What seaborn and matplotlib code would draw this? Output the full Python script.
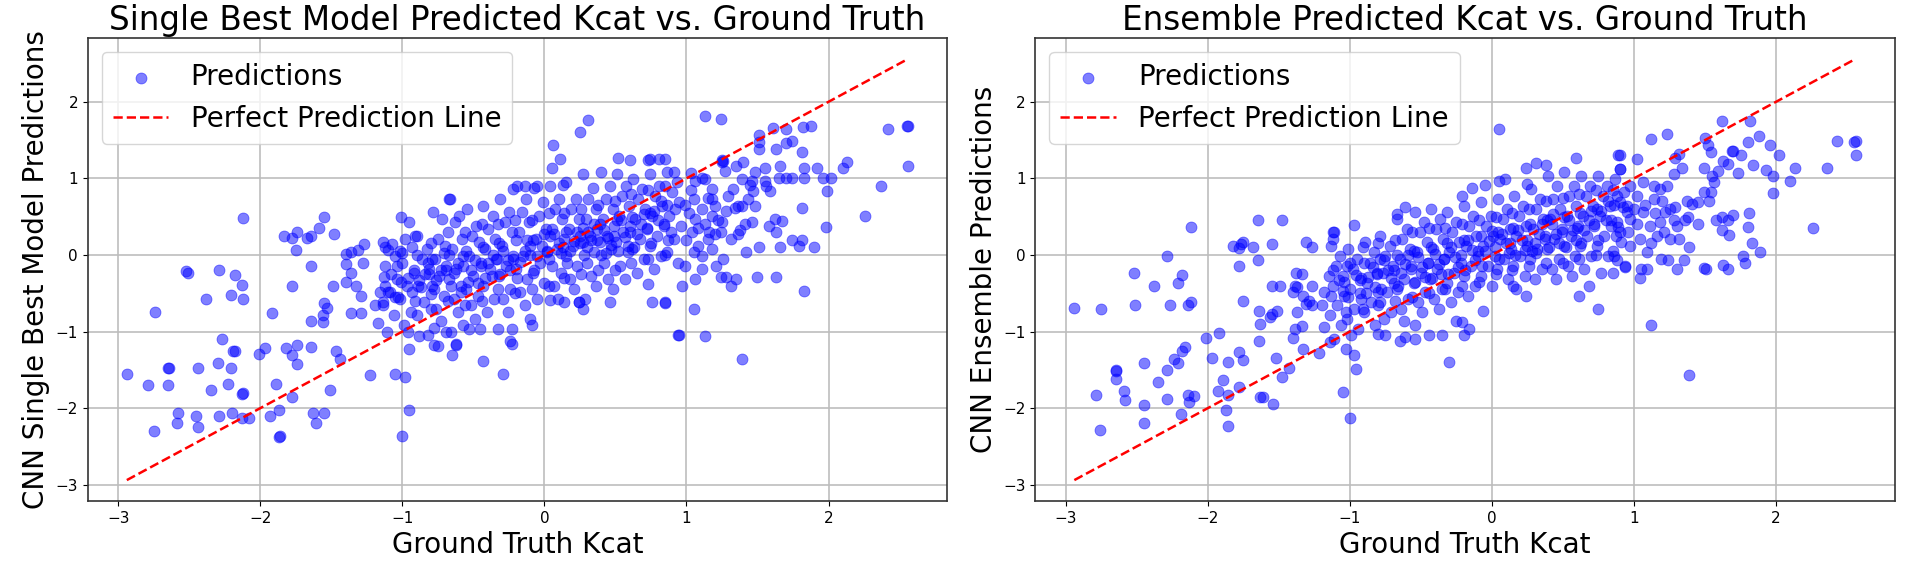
import matplotlib
matplotlib.use("Agg")
import matplotlib.pyplot as plt
import seaborn as sns
import pandas as pd

# (ground truth, prediction) pairs, single best model
single_points = [
    (-2.12, 0.48), (-1.55, 0.50), (-1.83, 0.25), (-1.78, 0.22), (-1.74, 0.30), (-1.67, 0.22),
    (-1.64, 0.25), (-1.59, 0.35), (-1.48, 0.27), (-1.75, 0.06), (-1.64, -0.14),
    (-2.51, -0.23), (-2.52, -0.21), (-2.29, -0.19), (-2.18, -0.26), (-2.13, -0.39), (-2.21, -0.52),
    (-2.12, -0.57), (-2.38, -0.58), (-2.74, -0.75), (-1.92, -0.76), (-1.78, -0.40), (-1.49, -0.40),
    (-1.55, -0.63), (-1.53, -0.69), (-1.56, -0.79), (-1.64, -0.86), (-1.56, -0.87),
    (-1.40, 0.01), (-1.36, 0.04), (-1.27, 0.14), (-1.31, 0.07), (-1.40, -0.12), (-1.36, -0.24),
    (-1.40, -0.35), (-1.28, -0.10), (-1.33, -0.40), (-1.29, -0.53), (-1.36, -0.76), (-1.29, -0.76),
    (-1.17, -0.89), (-1.19, -0.66), (-1.14, -0.66), (-1.16, -0.49), (-1.10, -0.49), (-1.13, -0.29),
    (-1.12, 0.10),
    (-2.27, -1.10), (-2.19, -1.25), (-2.18, -1.25), (-2.01, -1.29), (-1.97, -1.22), (-1.82, -1.22),
    (-1.78, -1.31), (-1.74, -1.18), (-1.74, -1.42), (-1.64, -1.20), (-1.47, -1.25), (-1.44, -1.36),
    (-2.94, -1.56), (-2.79, -1.70), (-2.65, -1.48), (-2.64, -1.47), (-2.65, -1.70), (-2.44, -1.48),
    (-2.30, -1.41), (-2.21, -1.48), (-2.35, -1.76), (-2.23, -1.68), (-2.13, -1.81), (-2.12, -1.80),
    (-1.89, -1.68), (-1.78, -1.86), (-1.51, -1.76), (-1.23, -1.57),
    (-2.75, -2.30), (-2.59, -2.19), (-2.58, -2.07), (-2.45, -2.10), (-2.44, -2.25), (-2.29, -2.10),
    (-2.20, -2.07), (-2.13, -2.13), (-2.08, -2.13), (-1.93, -2.10), (-1.87, -2.02), (-1.87, -2.38),
    (-1.86, -2.37), (-1.63, -2.07), (-1.61, -2.19), (-1.55, -2.07),
    (0.31, 1.76), (0.25, 1.61), (0.06, 1.43), (0.11, 1.25), (0.05, 1.14), (0.52, 1.26), (0.60, 1.24),
    (0.73, 1.24), (0.74, 1.25), (0.81, 1.25), (-0.67, 0.73), (-0.14, 0.90), (-0.22, 0.86),
    (-0.05, 0.90), (0.13, 0.91),
    (-0.95, -1.23), (-1.05, -1.55), (-0.98, -1.59), (-0.95, -2.03), (-1.00, -2.36), (-0.43, -1.38),
    (-0.29, -1.55), (-0.24, -1.12), (-0.23, -1.16), (-0.65, -1.30), (-0.62, -1.18), (-0.75, -1.19),
    (-0.88, -1.06), (0.94, -1.05),
    (0.04, -0.59), (0.14, -0.62), (0.24, -0.61), (0.27, -0.70), (0.46, -0.62), (0.73, -0.38),
    (0.76, -0.61), (0.85, -0.62), (-0.09, -0.92), (-0.33, -0.97), (-0.53, -0.97), (-0.78, -0.95),
    (-0.62, -1.16),
    (1.13, 1.81), (1.24, 1.78), (2.42, 1.65), (2.55, 1.68), (2.56, 1.68), (2.56, 1.16), (2.37, 0.90),
    (2.26, 0.51), (2.10, 1.14), (2.13, 1.22), (1.98, 0.37), (1.99, 0.83), (2.02, 1.00), (1.96, 1.00),
    (1.92, 1.14), (1.83, 1.14), (1.83, 1.00), (1.81, 1.35), (1.81, 0.61), (1.90, 0.11), (1.83, -0.47),
    (1.88, 1.69), (1.82, 1.67), (1.74, 1.49), (1.70, 1.46), (1.70, 1.65), (1.63, 1.39), (1.61, 1.66),
    (1.51, 1.56), (1.51, 1.48), (1.51, 1.39),
    (1.66, 1.16), (1.70, 1.00), (1.74, 1.00), (1.65, 1.00), (1.55, 1.13), (1.48, 1.08), (1.40, 1.22),
    (1.35, 1.16), (1.27, 1.09), (1.25, 1.21), (1.55, 0.96), (1.56, 0.90), (1.59, 0.83), (1.46, 0.96),
    (1.45, 0.91), (1.47, 0.83),
    (1.62, 0.47), (1.67, 0.44), (1.58, 0.38), (1.63, 0.30), (1.46, 0.43), (1.42, 0.04), (1.51, 0.11),
    (1.66, 0.11), (1.79, 0.12), (1.81, 0.19), (1.74, 0.19), (1.63, -0.29), (1.50, -0.29),
    (1.39, 0.64), (1.36, 0.64), (1.34, 0.61), (1.28, 0.58), (1.38, 0.32), (1.36, 0.27), (1.31, 0.21),
    (1.24, 0.30), (1.20, 0.27), (1.26, -0.05), (1.21, -0.14), (1.24, -0.29), (1.31, -0.40),
    (1.28, -0.29), (1.35, -0.31), (1.11, -0.18), (1.06, -0.31), (0.99, -0.14), (0.97, -0.40),
    (1.05, -0.70), (0.95, -1.05), (1.13, -1.06), (1.39, -1.36), (0.85, -0.63),
    (1.06, 0.97), (1.11, 1.00), (0.91, 1.08), (1.03, 1.07), (0.85, 1.25), (1.26, 1.23), (1.25, 1.24),
    (1.15, 0.74), (1.18, 0.73), (1.05, 0.73), (1.11, 0.60), (1.06, 0.47), (1.13, 0.40), (1.18, 0.51),
    (1.20, 0.64), (1.15, 0.21), (1.08, 0.12), (1.04, 0.30), (1.11, -0.01), (1.05, 0.04), (1.18, 0.08),
    (1.25, 0.43), (1.29, 0.77), (1.33, 0.86), (1.18, 0.86), (1.13, 0.99), (1.39, 0.99), (1.43, 0.73),
    (1.48, 0.64), (1.41, 0.40),
    (1.02, 0.55), (1.08, 0.35), (1.00, 0.20), (1.16, 0.30), (1.22, 0.45), (1.03, 0.85), (0.99, 0.65),
    # dense band
    (-1.135, 0.17), (-1.07, 0.14), (-1.10, 0.06), (-1.05, -0.01), (-1.12, -0.14), (-1.04, -0.31),
    (-1.09, -0.49), (-1.14, -0.62), (-1.06, -0.79), (-1.11, -1.01), (-1.08, -0.25), (-1.12, -0.40),
    (-1.05, -0.55),
    (-1.01, 0.49), (-0.95, 0.43), (-0.98, 0.21), (-0.93, 0.10), (-1.00, -0.10), (-0.92, -0.23),
    (-0.97, -0.40), (-1.02, -0.57), (-0.94, -0.75), (-0.99, -0.92), (-0.96, -1.01), (-0.96, -0.30),
    (-0.93, -0.48), (-1.00, 0.02),
    (-0.895, 0.25), (-0.83, 0.08), (-0.86, -0.05), (-0.81, -0.18), (-0.88, -0.33), (-0.80, -0.51),
    (-0.85, -0.62), (-0.90, -0.79), (-0.82, -1.05), (-0.84, -0.25), (-0.87, -0.42), (-0.82, -0.10),
    (-0.785, 0.56), (-0.72, 0.47), (-0.75, 0.21), (-0.70, 0.12), (-0.77, -0.05), (-0.69, -0.14),
    (-0.74, -0.27), (-0.79, -0.40), (-0.71, -0.53), (-0.76, -0.70), (-0.73, -0.86), (-0.695, -1.01),
    (-0.775, -1.18), (-0.73, -0.20), (-0.76, -0.33), (-0.71, 0.02),
    (-0.665, 0.73), (-0.60, 0.51), (-0.63, 0.43), (-0.58, 0.21), (-0.65, 0.08), (-0.57, -0.01),
    (-0.62, -0.18), (-0.67, -0.31), (-0.59, -0.40), (-0.64, -0.57), (-0.61, -0.75), (-0.575, -0.92),
    (-0.655, -1.01), (-0.61, -0.10), (-0.64, -0.24), (-0.59, -0.48),
    (-0.545, 0.60), (-0.48, 0.38), (-0.51, 0.25), (-0.46, 0.17), (-0.53, -0.01), (-0.45, -0.14),
    (-0.50, -0.27), (-0.55, -0.44), (-0.47, -0.53), (-0.52, -0.66), (-0.49, -0.83), (-0.455, -0.97),
    (-0.49, -0.07), (-0.52, -0.20), (-0.47, -0.36),
    (-0.43, 0.64), (-0.365, 0.51), (-0.395, 0.34), (-0.345, 0.21), (-0.415, 0.08), (-0.335, -0.05),
    (-0.385, -0.18), (-0.435, -0.40), (-0.355, -0.57), (-0.405, -0.75), (-0.37, -0.28), (-0.40, -0.10),
    (-0.36, 0.00),
    (-0.315, 0.73), (-0.25, 0.56), (-0.28, 0.43), (-0.23, 0.30), (-0.30, 0.12), (-0.22, -0.01),
    (-0.27, -0.14), (-0.32, -0.27), (-0.24, -0.44), (-0.29, -0.57), (-0.26, -0.75), (-0.225, -0.97),
    (-0.26, -0.06), (-0.29, 0.05), (-0.24, -0.20),
    (-0.195, 0.90), (-0.13, 0.73), (-0.16, 0.56), (-0.11, 0.43), (-0.18, 0.30), (-0.10, 0.12),
    (-0.15, -0.01), (-0.20, -0.18), (-0.12, -0.31), (-0.17, -0.49), (-0.14, -0.66), (-0.105, -0.83),
    (-0.14, 0.05), (-0.17, -0.09), (-0.12, 0.20),
    (-0.075, 0.88), (-0.01, 0.69), (-0.04, 0.51), (0.01, 0.34), (-0.06, 0.21), (0.02, 0.04),
    (-0.03, -0.10), (-0.08, -0.23), (0.00, -0.36), (-0.05, -0.57), (-0.02, 0.12), (-0.05, -0.02),
    (0.00, 0.27),
    (0.04, 0.90), (0.105, 0.73), (0.075, 0.60), (0.125, 0.47), (0.055, 0.34), (0.135, 0.21),
    (0.085, 0.08), (0.035, -0.05), (0.115, -0.23), (0.065, -0.40), (0.095, -0.57), (0.10, 0.15),
    (0.07, 0.27), (0.12, 0.02),
    (0.155, 0.95), (0.22, 0.73), (0.19, 0.60), (0.24, 0.47), (0.17, 0.34), (0.25, 0.25), (0.20, 0.12),
    (0.15, -0.01), (0.23, -0.14), (0.18, -0.31), (0.21, -0.44), (0.245, -0.62), (0.21, 0.18),
    (0.18, 0.05), (0.23, 0.30),
    (0.275, 1.06), (0.34, 0.88), (0.31, 0.73), (0.36, 0.60), (0.29, 0.47), (0.37, 0.34), (0.32, 0.25),
    (0.27, 0.17), (0.35, 0.04), (0.30, -0.10), (0.33, -0.27), (0.365, -0.40), (0.285, -0.57),
    (0.33, 0.20), (0.30, 0.10), (0.35, 0.40), (0.31, 0.30),
    (0.395, 1.08), (0.46, 0.90), (0.43, 0.73), (0.48, 0.60), (0.41, 0.47), (0.49, 0.38), (0.44, 0.25),
    (0.39, 0.17), (0.47, 0.08), (0.42, -0.10), (0.45, -0.31), (0.485, -0.44), (0.45, 0.22),
    (0.42, 0.32), (0.47, 0.13), (0.43, 0.02),
    (0.51, 1.06), (0.575, 0.90), (0.545, 0.77), (0.595, 0.64), (0.525, 0.51), (0.605, 0.38),
    (0.555, 0.30), (0.505, 0.17), (0.585, 0.04), (0.535, -0.14), (0.565, -0.31), (0.57, 0.24),
    (0.54, 0.45), (0.59, 0.12),
    (0.625, 0.99), (0.69, 0.86), (0.66, 0.73), (0.71, 0.60), (0.64, 0.47), (0.72, 0.34), (0.67, 0.21),
    (0.62, 0.08), (0.70, -0.05), (0.65, -0.23), (0.68, 0.40), (0.65, 0.28), (0.70, 0.53),
    (0.745, 1.06), (0.81, 0.90), (0.78, 0.77), (0.83, 0.64), (0.76, 0.51), (0.84, 0.38), (0.79, 0.25),
    (0.74, 0.12), (0.82, -0.01), (0.77, -0.18), (0.80, 0.45), (0.77, 0.58), (0.82, 0.70),
    (0.865, 1.08), (0.93, 0.95), (0.90, 0.82), (0.95, 0.69), (0.88, 0.51), (0.96, 0.38), (0.91, 0.21),
    (0.86, 0.04), (0.94, -0.10), (0.92, 0.60), (0.89, 0.30),
    # core, second pass
    (-1.03, -0.55), (-1.01, -0.35), (-1.04, -0.15), (-1.02, 0.05),
    (-0.91, -0.60), (-0.89, -0.40), (-0.92, -0.20), (-0.90, 0.00), (-0.91, 0.25),
    (-0.80, -0.70), (-0.78, -0.45), (-0.81, -0.25), (-0.79, -0.05), (-0.80, 0.15),
    (-0.68, -0.60), (-0.66, -0.40), (-0.69, -0.20), (-0.67, 0.00), (-0.68, 0.30),
    (-0.56, -0.65), (-0.54, -0.35), (-0.57, -0.15), (-0.55, 0.05), (-0.56, 0.30),
    (-0.44, -0.60), (-0.42, -0.30), (-0.45, -0.10), (-0.43, 0.10), (-0.44, 0.40),
    (-0.33, -0.45), (-0.31, -0.25), (-0.34, -0.05), (-0.32, 0.15), (-0.33, 0.40),
    (-0.21, -0.50), (-0.19, -0.30), (-0.22, -0.05), (-0.20, 0.20), (-0.21, 0.45),
    (-0.09, -0.45), (-0.07, -0.20), (-0.10, 0.00), (-0.08, 0.20), (-0.09, 0.45),
    (0.03, -0.40), (0.05, -0.15), (0.02, 0.05), (0.04, 0.25), (0.03, 0.55),
    (0.14, -0.30), (0.16, -0.10), (0.13, 0.10), (0.15, 0.30), (0.14, 0.55),
    (0.26, -0.25), (0.28, 0.00), (0.25, 0.15), (0.27, 0.35), (0.26, 0.60),
    (0.38, -0.20), (0.40, 0.00), (0.37, 0.20), (0.39, 0.40), (0.38, 0.65),
    (0.50, -0.20), (0.52, 0.05), (0.49, 0.25), (0.51, 0.45), (0.50, 0.70),
    (0.61, -0.10), (0.63, 0.10), (0.60, 0.30), (0.62, 0.50), (0.61, 0.80),
    (0.73, -0.05), (0.75, 0.15), (0.72, 0.35), (0.74, 0.55), (0.73, 0.85),
    (0.85, 0.00), (0.87, 0.20), (0.84, 0.40), (0.86, 0.65), (0.85, 0.90),
]

# (ground truth, prediction) pairs, ensemble
ensemble_points = [
    (-2.12, 0.37), (-1.65, 0.46), (-1.48, 0.46), (-1.82, 0.12), (-1.78, 0.09), (-1.75, 0.17),
    (-1.77, 0.14), (-1.68, 0.10), (-1.55, 0.14), (-1.78, -0.15), (-1.65, -0.06), (-1.31, 0.17),
    (-1.27, 0.11),
    (-2.29, -0.01), (-2.52, -0.24), (-2.18, -0.26), (-2.21, -0.37), (-2.38, -0.41), (-2.94, -0.69),
    (-2.75, -0.70), (-2.51, -0.65), (-2.27, -0.65), (-2.14, -0.66), (-2.12, -0.61), (-1.75, -0.60),
    (-1.55, -0.40), (-1.49, -0.41), (-1.64, -0.73), (-1.56, -0.81), (-1.55, -0.77), (-1.51, -0.73),
    (-1.63, -0.90),
    (-1.38, -0.23), (-1.34, -0.25), (-1.39, -0.41), (-1.37, -0.42), (-1.27, -0.40), (-1.40, -0.49),
    (-1.33, -0.53), (-1.29, -0.60), (-1.31, -0.64), (-1.27, -0.66), (-1.20, -0.65), (-1.37, -0.74),
    (-1.34, -0.93), (-1.39, -0.97), (-1.40, -1.09), (-1.33, -1.23), (-1.22, -1.28), (-1.15, -0.27),
    (-1.18, -0.49), (-1.13, -0.53), (-1.18, -0.94), (-1.14, -1.14), (-1.12, 0.30),
    (-2.01, -1.09), (-1.92, -1.02), (-2.16, -1.20), (-2.18, -1.25), (-2.24, -1.36), (-2.21, -1.41),
    (-1.97, -1.34), (-1.86, -1.40), (-1.78, -1.27), (-1.75, -1.37), (-1.64, -1.13), (-1.52, -1.34),
    (-1.43, -1.47), (-1.48, -1.60),
    (-2.65, -1.50), (-2.65, -1.52), (-2.65, -1.62), (-2.45, -1.41), (-2.29, -1.50), (-2.35, -1.66),
    (-2.79, -1.83), (-2.59, -1.78), (-2.58, -1.90), (-2.45, -1.96), (-2.45, -2.20), (-2.29, -1.88),
    (-2.14, -1.83), (-2.10, -1.84), (-2.13, -1.92), (-2.19, -2.08), (-2.76, -2.28),
    (-1.93, -1.78), (-1.89, -1.63), (-1.86, -1.83), (-1.87, -2.02), (-1.86, -2.24), (-1.78, -1.73),
    (-1.63, -1.86), (-1.61, -1.86), (-1.54, -1.94),
    (0.05, 1.64), (0.59, 1.27), (0.89, 1.30), (0.24, 1.14), (0.31, 1.20), (0.38, 1.17), (0.90, 1.12),
    (0.05, 0.97), (0.09, 0.99), (0.25, 0.93), (-0.05, 0.91), (-0.14, 0.88), (-0.21, 0.77),
    (-0.97, 0.39), (-1.11, 0.30), (-1.12, 0.21), (-0.67, 0.54), (-0.61, 0.62),
    (-0.30, -1.40), (-1.05, -1.79), (-1.00, -2.13), (-0.96, -1.49), (-0.97, -1.31), (-1.03, -1.23),
    (-0.06, -0.73), (0.61, -0.54), (0.75, -0.70),
    (-0.80, -1.03), (-0.75, -1.04), (-0.65, -1.12), (-0.61, -1.07), (-0.54, -1.10), (-0.44, -1.04),
    (-0.35, -1.04), (-0.20, -1.04), (-0.16, -0.97), (-0.25, -0.86), (-0.21, -0.88), (-0.62, -0.86),
    (-0.54, -0.92), (0.17, -0.44), (0.24, -0.53), (0.15, -0.40),
    (1.62, 1.75), (1.82, 1.75), (1.12, 1.51), (1.23, 1.58), (1.50, 1.53), (1.52, 1.43), (1.54, 1.34),
    (1.32, 1.32), (1.29, 1.27), (0.90, 1.30), (1.02, 1.25), (0.90, 1.12),
    (1.34, 1.14), (1.28, 1.06), (1.49, 1.13), (1.55, 1.03), (1.59, 1.10), (1.63, 1.23), (1.69, 1.36),
    (1.70, 1.36), (1.75, 1.30), (1.66, 1.19), (1.73, 1.07), (1.84, 1.17), (1.80, 1.47), (1.88, 1.55),
    (1.96, 1.43), (2.02, 1.30), (1.93, 1.11), (1.98, 1.03), (1.98, 0.81), (2.13, 1.14), (2.10, 0.96),
    (2.36, 1.14), (2.43, 1.49), (2.56, 1.49), (2.55, 1.48), (2.56, 1.30), (2.26, 0.35),
    (1.81, 0.55), (1.80, 0.36), (1.83, 0.16), (1.89, 0.04), (1.77, -0.01), (1.78, -0.10), (1.63, -0.13),
    (1.66, -0.18), (1.49, -0.17), (1.51, -0.18), (1.67, 0.26), (1.62, 0.32), (1.58, 0.45), (1.62, 0.49),
    (1.66, 0.45), (1.70, 0.52), (1.53, 0.71), (1.54, 0.82), (1.49, 0.82), (1.56, 0.95), (1.45, 0.69),
    (1.41, 0.67), (1.37, 0.71), (1.38, 0.49), (1.36, 0.45), (1.45, 0.40), (1.29, 0.62), (1.25, 0.60),
    (1.22, 0.56), (1.39, 0.10), (1.35, -0.07), (1.30, -0.18), (1.24, -0.07), (1.19, -0.05),
    (1.09, -0.18), (1.05, -0.18), (1.04, -0.30), (1.12, -0.91), (1.39, -1.57), (0.85, -0.23),
    (0.94, -0.16), (0.88, -0.07),
    (0.88, 0.77), (0.95, 0.64), (1.02, 0.77), (0.97, 0.47), (1.06, 0.56), (1.14, 0.73), (1.18, 0.86),
    (1.11, 0.38), (1.16, 0.25), (1.04, 0.21), (0.97, 0.12), (0.90, 0.30), (1.09, 0.04), (1.21, 0.30),
    (1.30, 0.38), (1.18, 0.43), (1.25, 0.21), (1.32, 0.21), (1.06, 0.95), (1.14, 0.90), (1.23, 0.90),
    (0.97, 0.90),
    (1.02, 0.40), (1.08, 0.65), (1.12, 0.15), (1.20, 0.70), (1.28, 0.45), (1.00, 0.60), (1.15, 0.55),
    # dense band
    (-1.135, 0.12), (-1.07, -0.01), (-1.10, -0.14), (-1.05, -0.27), (-1.12, -0.40), (-1.04, -0.53),
    (-1.09, -0.66), (-1.14, -0.79), (-1.06, -0.92), (-1.11, -1.10), (-1.08, -0.33), (-1.12, -0.20),
    (-1.05, -0.47),
    (-1.01, 0.08), (-0.95, -0.05), (-0.98, -0.18), (-0.93, -0.33), (-1.00, -0.44), (-0.92, -0.57),
    (-0.97, -0.70), (-1.02, -0.83), (-0.94, -0.97), (-0.99, -1.05), (-0.96, -0.26), (-0.93, -0.50),
    (-1.00, -0.11),
    (-0.895, 0.17), (-0.83, 0.04), (-0.86, -0.10), (-0.81, -0.23), (-0.88, -0.36), (-0.80, -0.49),
    (-0.85, -0.62), (-0.90, -0.75), (-0.82, -0.92), (-0.84, -0.16), (-0.87, -0.29), (-0.82, -0.42),
    (-0.785, 0.25), (-0.72, 0.12), (-0.75, -0.01), (-0.70, -0.14), (-0.77, -0.23), (-0.69, -0.36),
    (-0.74, -0.49), (-0.79, -0.62), (-0.71, -0.75), (-0.76, -0.83), (-0.73, -0.19), (-0.76, -0.07),
    (-0.71, -0.30),
    (-0.665, 0.47), (-0.60, 0.34), (-0.63, 0.21), (-0.58, 0.08), (-0.65, -0.05), (-0.57, -0.18),
    (-0.62, -0.31), (-0.67, -0.44), (-0.59, -0.57), (-0.64, -0.70), (-0.61, -0.12), (-0.64, -0.24),
    (-0.59, 0.00),
    (-0.545, 0.56), (-0.48, 0.43), (-0.51, 0.30), (-0.46, 0.17), (-0.53, 0.04), (-0.45, -0.10),
    (-0.50, -0.23), (-0.55, -0.36), (-0.47, -0.49), (-0.52, -0.62), (-0.49, -0.75), (-0.49, -0.16),
    (-0.52, -0.03), (-0.47, -0.29),
    (-0.43, 0.60), (-0.365, 0.47), (-0.395, 0.34), (-0.345, 0.21), (-0.415, 0.08), (-0.335, -0.05),
    (-0.385, -0.18), (-0.435, -0.31), (-0.355, -0.44), (-0.405, -0.57), (-0.37, -0.70),
    (-0.37, -0.12), (-0.40, 0.01), (-0.36, -0.25),
    (-0.315, 0.56), (-0.25, 0.43), (-0.28, 0.30), (-0.23, 0.17), (-0.30, 0.04), (-0.22, -0.10),
    (-0.27, -0.23), (-0.32, -0.36), (-0.24, -0.49), (-0.29, -0.62), (-0.26, -0.03), (-0.29, 0.10),
    (-0.24, -0.16),
    (-0.195, 0.64), (-0.13, 0.51), (-0.16, 0.38), (-0.11, 0.25), (-0.18, 0.12), (-0.10, -0.01),
    (-0.15, -0.14), (-0.20, -0.27), (-0.12, -0.40), (-0.17, -0.53), (-0.14, 0.06), (-0.17, 0.19),
    (-0.12, -0.07),
    (-0.075, 0.69), (-0.01, 0.51), (-0.04, 0.38), (0.01, 0.25), (-0.06, 0.12), (0.02, -0.01),
    (-0.03, -0.14), (-0.08, -0.27), (0.00, -0.40), (-0.02, 0.18), (-0.05, 0.05), (0.00, 0.31),
    (0.04, 0.73), (0.105, 0.60), (0.075, 0.47), (0.125, 0.34), (0.055, 0.21), (0.135, 0.08),
    (0.085, -0.05), (0.035, -0.18), (0.115, -0.31), (0.10, 0.15), (0.07, 0.27), (0.12, 0.02),
    (0.155, 0.77), (0.22, 0.64), (0.19, 0.51), (0.24, 0.38), (0.17, 0.25), (0.25, 0.12), (0.20, -0.01),
    (0.15, -0.14), (0.23, -0.27), (0.21, 0.20), (0.18, 0.32), (0.23, 0.06),
    (0.275, 0.86), (0.34, 0.73), (0.31, 0.60), (0.36, 0.47), (0.29, 0.34), (0.37, 0.21), (0.32, 0.08),
    (0.27, -0.05), (0.35, -0.18), (0.30, -0.31), (0.33, 0.27), (0.30, 0.15), (0.35, 0.40), (0.31, 0.02),
    (0.395, 1.03), (0.46, 0.90), (0.43, 0.73), (0.48, 0.60), (0.41, 0.47), (0.49, 0.34), (0.44, 0.21),
    (0.39, 0.08), (0.47, -0.05), (0.42, -0.18), (0.45, -0.31), (0.45, 0.28), (0.42, 0.40), (0.47, 0.15),
    (0.43, 0.53),
    (0.51, 1.08), (0.575, 0.90), (0.545, 0.77), (0.595, 0.64), (0.525, 0.51), (0.605, 0.38),
    (0.555, 0.25), (0.505, 0.12), (0.585, -0.01), (0.535, -0.14), (0.565, -0.27), (0.57, 0.32),
    (0.54, 0.45), (0.59, 0.19),
    (0.625, 1.03), (0.69, 0.90), (0.66, 0.77), (0.71, 0.64), (0.64, 0.51), (0.72, 0.38), (0.67, 0.25),
    (0.62, 0.12), (0.70, -0.01), (0.65, -0.18), (0.68, -0.40), (0.68, 0.45), (0.65, 0.32), (0.70, 0.58),
    (0.745, 1.03), (0.81, 0.90), (0.78, 0.77), (0.83, 0.64), (0.76, 0.51), (0.84, 0.38), (0.79, 0.25),
    (0.74, 0.12), (0.82, -0.01), (0.77, -0.23), (0.80, 0.45), (0.77, 0.58), (0.82, 0.70),
    (0.865, 0.99), (0.93, 0.82), (0.90, 0.69), (0.95, 0.56), (0.88, 0.43), (0.96, 0.30), (0.91, 0.17),
    (0.86, -0.01), (0.94, -0.14), (0.92, 0.62), (0.89, 0.36),
    # core, second pass
    (-1.03, -0.75), (-1.01, -0.55), (-1.04, -0.35), (-1.02, -0.15),
    (-0.91, -0.70), (-0.89, -0.50), (-0.92, -0.30), (-0.90, -0.10), (-0.91, 0.10),
    (-0.80, -0.65), (-0.78, -0.45), (-0.81, -0.25), (-0.79, -0.05), (-0.80, 0.15),
    (-0.68, -0.60), (-0.66, -0.40), (-0.69, -0.20), (-0.67, 0.00), (-0.68, 0.20),
    (-0.56, -0.55), (-0.54, -0.35), (-0.57, -0.15), (-0.55, 0.05), (-0.56, 0.30),
    (-0.44, -0.50), (-0.42, -0.30), (-0.45, -0.10), (-0.43, 0.10), (-0.44, 0.35),
    (-0.33, -0.45), (-0.31, -0.25), (-0.34, -0.05), (-0.32, 0.15), (-0.33, 0.35),
    (-0.21, -0.40), (-0.19, -0.20), (-0.22, 0.00), (-0.20, 0.20), (-0.21, 0.40),
    (-0.09, -0.35), (-0.07, -0.15), (-0.10, 0.05), (-0.08, 0.25), (-0.09, 0.45),
    (0.03, -0.25), (0.05, -0.05), (0.02, 0.10), (0.04, 0.30), (0.03, 0.50),
    (0.14, -0.20), (0.16, 0.00), (0.13, 0.15), (0.15, 0.35), (0.14, 0.55),
    (0.26, -0.15), (0.28, 0.05), (0.25, 0.20), (0.27, 0.40), (0.26, 0.60),
    (0.38, -0.10), (0.40, 0.10), (0.37, 0.25), (0.39, 0.45), (0.38, 0.70),
    (0.50, -0.10), (0.52, 0.10), (0.49, 0.30), (0.51, 0.50), (0.50, 0.75),
    (0.61, -0.05), (0.63, 0.15), (0.60, 0.35), (0.62, 0.55), (0.61, 0.80),
    (0.73, 0.00), (0.75, 0.20), (0.72, 0.40), (0.74, 0.60), (0.73, 0.85),
    (0.85, 0.05), (0.87, 0.25), (0.84, 0.45), (0.86, 0.65), (0.85, 0.85),
]

titles = ["Single Best Model Predicted Kcat vs. Ground Truth",
          "Ensemble Predicted Kcat vs. Ground Truth"]
ylabels = ["CNN Single Best Model Predictions", "CNN Ensemble Predictions"]

fig, axes = plt.subplots(1, 2, figsize=(19.08, 5.65), dpi=100)
fig.subplots_adjust(left=0.046, right=0.993, bottom=0.113, top=0.933, wspace=0.1026)

for ax, pts, title, ylab in zip(axes, [single_points, ensemble_points], titles, ylabels):
    df = pd.DataFrame(pts, columns=["truth", "pred"])
    lo, hi = df["truth"].min(), df["truth"].max()

    sns.scatterplot(data=df, x="truth", y="pred", ax=ax, color="blue", alpha=0.5,
                    s=62, edgecolor="blue", linewidth=0.6, label="Predictions")
    sns.lineplot(x=[lo, hi], y=[lo, hi], ax=ax, color="red", linestyle="--",
                 linewidth=1.8, label="Perfect Prediction Line")

    ax.set_title(title, fontsize=23.5)
    ax.set_xlabel("Ground Truth Kcat", fontsize=20)
    ax.set_ylabel(ylab, fontsize=20)
    ax.tick_params(labelsize=11)
    ax.set_xticks([-3, -2, -1, 0, 1, 2])
    ax.set_yticks([-3, -2, -1, 0, 1, 2])
    ax.grid(True, color="#bdbdbd", linewidth=1.2)
    ax.set_axisbelow(True)
    for sp in ax.spines.values():
        sp.set_linewidth(1.2)
        sp.set_color("#333333")
    ax.legend(loc="upper left", fontsize=20)

fig.savefig("out.png", dpi=100)
